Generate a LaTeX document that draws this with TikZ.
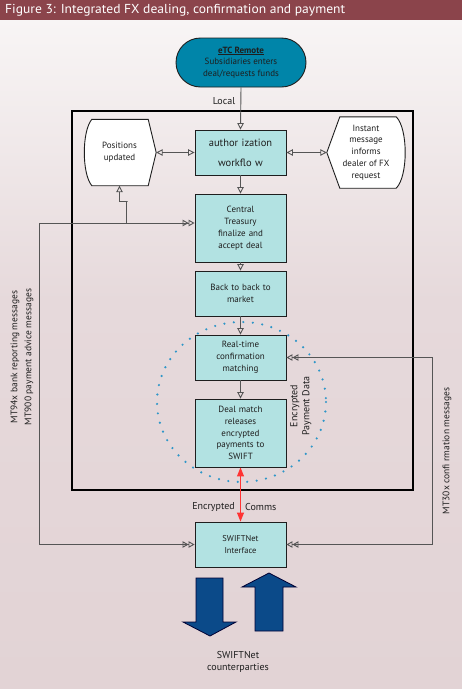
\documentclass[tikz,border=0pt]{standalone}
\usepackage{fontspec}
\usepackage{graphicx}
\setmainfont{PT Sans}
\usetikzlibrary{arrows.meta,calc,shapes.misc}
\definecolor{titlebar}{HTML}{8B444B}
\definecolor{bgtop}{HTML}{F8F5F5}
\definecolor{bgmid}{HTML}{E6D9DB}
\definecolor{bgbot}{HTML}{E2D3D5}
\definecolor{boxfill}{HTML}{B2E2E2}
\definecolor{etcfill}{HTML}{0085A9}
\definecolor{darrow}{HTML}{0B4A89}
\definecolor{conncol}{HTML}{555555}
\definecolor{dotcol}{HTML}{2E96C8}
\definecolor{txt}{HTML}{1E1E1E}
\definecolor{redline}{HTML}{FF3333}
\pgfdeclarelayer{bglayer}
\pgfdeclarelayer{shapelayer}
\pgfsetlayers{bglayer,shapelayer,main}
\tikzset{
  bodyfont/.style={font=\fontsize{9}{11.8}\selectfont},
  labelfont/.style={font=\fontsize{10}{12}\selectfont},
  pbox/.style={draw=txt, fill=boxfill, line width=0.9pt, minimum width=91pt,
    text width=86pt, align=center, inner sep=0pt, text=txt, bodyfont},
  plain/.style={inner sep=0pt, align=center, text=txt},
  conn/.style={draw=conncol, line width=0.9pt},
  oa/.style={conn, -{Triangle[open,length=6.5pt,width=6.5pt]}},
  oaboth/.style={conn, {Triangle[open,length=6.5pt,width=6.5pt]}-{Triangle[open,length=6.5pt,width=6.5pt]}},
  dblboth/.style={conn, {Triangle[open,length=6pt,width=6.5pt]Triangle[open,length=6pt,width=6.5pt]}-{Triangle[open,length=6pt,width=6.5pt]Triangle[open,length=6pt,width=6.5pt]}},
  redarrow/.style={draw=redline, line width=1pt, {Triangle[length=9pt,width=7pt]}-{Triangle[length=9pt,width=7pt]}},
  shapeline/.style={draw=txt, fill=white, line width=0.9pt},
  bigarrow/.style={draw=black!80!blue, fill=darrow, line width=0.8pt},
}
\begin{document}
\begin{tikzpicture}[x=1pt,y=-1pt]
\useasboundingbox (0,0) rectangle (462,689);
\begin{pgfonlayer}{bglayer}
  \shade[top color=bgtop, bottom color=bgmid] (0,20) rectangle (462,300.5);
  \shade[top color=bgmid, bottom color=bgbot] (0,300) rectangle (462,689);
  \fill[titlebar] (0,0) rectangle (462,20);
\end{pgfonlayer}
\node[anchor=west, text=white, inner sep=0pt, font=\fontsize{13}{15}\selectfont] (title) at (5,10)
  {\resizebox{340pt}{\height}{Figure 3: Integrated FX dealing, confirmation and payment}};

% top remote node
\node[rounded rectangle, draw=txt, fill=etcfill, line width=0.9pt, minimum width=130pt, minimum height=49pt,
  inner sep=0pt, align=center, text=txt, bodyfont] (etc) at (241,62.5)
  {\textbf{\underline{eTC Remote}}\\Subsidiaries enters\\deal/requests funds};

% frame
\node[draw=black, line width=1.8pt, minimum width=341pt, minimum height=379pt, inner sep=0pt] (frame) at (242.5,300.5) {};

% dotted circle
\draw[dotcol, line width=2.4pt, line cap=round, dash pattern=on 0pt off 9.5pt] (241.5,402) ellipse [x radius=84.5, y radius=80];

% main boxes
\node[pbox, minimum height=45pt, font=\fontsize{10.5}{20}\selectfont] (auth) at (240.5,152.5) {author ization\\workflo w};
\node[pbox, minimum height=68pt] (ct) at (240.5,228) {Central\\Treasury\\finalize and\\accept deal};
\node[pbox, minimum height=45pt] (bb) at (240.5,293.5) {Back to back to\\market};
\node[pbox, minimum height=45pt] (rt) at (240.5,357.5) {Real-time\\confirmation\\matching};
\node[pbox, minimum height=68pt] (dm) at (240.5,433) {Deal match\\releases\\encrypted\\payments to\\SWIFT};
\node[pbox, minimum height=45pt, font=\fontsize{8.5}{11.5}\selectfont] (sw) at (240.5,544.5) {SWIFTNet\\Interface};

% side shapes
\node[plain, bodyfont, minimum width=73pt, minimum height=66pt] (pos) at (119.5,152.5) {Positions\\updated};
\node[plain, bodyfont, minimum width=78pt, minimum height=71pt] (im) at (366,152.5) {Instant\\message\\informs\\dealer of FX\\request};
\begin{pgfonlayer}{shapelayer}
  \draw[shapeline] ($(pos.north east)+(-8,0)$) -- ($(pos.north west)+(9,0)$)
    .. controls ($(pos.west)+(-1,-21)$) and ($(pos.west)+(-1,21)$) .. ($(pos.south west)+(9,0)$)
    -- ($(pos.south east)+(-8,0)$) -- (pos.east) -- cycle;
  \draw[shapeline] (im.west) -- ($(im.north west)+(13,0)$) -- ($(im.north east)+(-9,0)$)
    .. controls ($(im.east)+(3,-24)$) and ($(im.east)+(3,24)$) .. ($(im.south east)+(-9,0)$)
    -- ($(im.south west)+(13,0)$) -- cycle;
\end{pgfonlayer}

% labels
\node[plain, labelfont] (local) at (224,101) {Local};
\node[plain, labelfont, rotate=90] (epd) at (301,406) {Encrypted\\Payment Data};
\node[plain, labelfont, anchor=east] (enc) at (235,507) {Encrypted};
\node[plain, labelfont, anchor=west] (comms) at (245,507) {Comms};
\node[plain, font=\fontsize{9.5}{14}\selectfont, rotate=90] (mt94) at (22,357) {MT94x bank reporting messages\\MT900 payment advice messages};
\node[plain, font=\fontsize{9.5}{12}\selectfont, rotate=90] (mt30) at (447,451) {MT30x confi rmation messages};
\node[plain, labelfont] (cp) at (238,662) {SWIFTNet\\counterparties};

% connectors
\draw[oa] (etc.south) -- (auth.north);
\draw[oa] (auth.south) -- (ct.north);
\draw[oa] (ct.south) -- (bb.north);
\draw[oa] (bb.south) -- (rt.north);
\draw[oa] (rt.south) -- (dm.north);
\draw[oaboth] (pos.east) -- (auth.west);
\draw[oaboth] (auth.east) -- (im.west);
\draw[dblboth] ([yshift=5pt]ct.west) -- ++(-155,0) |- (sw.west);
\coordinate (j1) at ($([yshift=5pt]ct.west)+(-68,0)$);
\draw[oa] (j1) |- ($(pos.south)+(8,16)$) -| (pos.south);
\draw[dblboth] (rt.east) -- ++(146,0) |- (sw.east);
\draw[redarrow] (dm.south) -- (sw.north);

% big arrows
\draw[bigarrow] (196,578) -- (223,578) -- (223,622) -- (236,622) -- (210,636) -- (183,622) -- (196,622) -- cycle;
\draw[bigarrow] (255,631) -- (283,631) -- (283,587) -- (296,587) -- (269,573) -- (242,587) -- (255,587) -- cycle;
\end{tikzpicture}
\end{document}
